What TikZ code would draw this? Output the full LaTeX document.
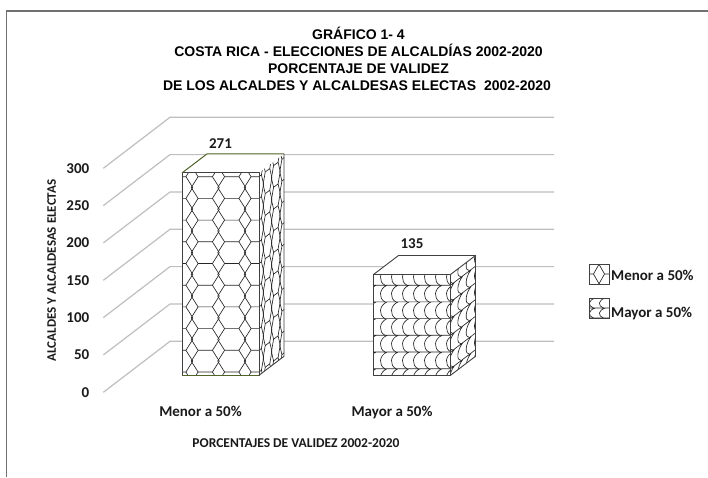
\documentclass[tikz,border=0pt]{standalone}
\usepackage{fontspec}
\setmainfont{Carlito}
\newfontfamily\titlefont{Liberation Sans}
\definecolor{txtc}{HTML}{1A1A1A}
\definecolor{gridc}{HTML}{BFBFBF}
\definecolor{edgec}{HTML}{404040}
\definecolor{olivec}{HTML}{4F6228}
\definecolor{frmc}{HTML}{707070}
\tikzset{
  patline/.style={draw=black!85, line width=0.65pt, line join=round},
  gridline/.style={draw=gridc, line width=1.2pt},
  baredge/.style={draw=edgec, line width=0.9pt, line join=round},
  lbl/.style={font=\bfseries\fontsize{15}{18}\selectfont, text=txtc, inner sep=0pt},
  ttl/.style={font=\titlefont\bfseries\fontsize{14}{16}\selectfont, text=black, inner sep=0pt, anchor=base},
}
% hexagon pattern: width, height, tile W, tile H, x offset, y offset
\newcommand\hexpat[6]{%
  \begin{scope}
    \clip (0,0) rectangle (#1,#2);
    \pgfmathtruncatemacro\hxn{ceil((#1-(#5))/(#3))+1}%
    \pgfmathtruncatemacro\hyn{ceil((#2-(#6))/(#4))+1}%
    \foreach \i in {-1,...,\hxn}{%
      \foreach \j in {-1,...,\hyn}{%
        \pgfmathsetmacro\hX{(#5)+(\i)*(#3)}%
        \pgfmathsetmacro\hY{(#6)+(\j)*(#4)}%
        \draw[patline] (\hX+0.23*#3,\hY) -- (\hX+0.77*#3,\hY) -- (\hX+1.03*#3,\hY+0.5*#4) -- (\hX+0.77*#3,\hY+#4)
          (\hX+0.23*#3,\hY) -- (\hX-0.03*#3,\hY+0.5*#4) -- (\hX+0.23*#3,\hY+#4);
      }}
  \end{scope}}
% scale pattern
\newcommand\scalepat[6]{%
  \begin{scope}
    \clip (0,0) rectangle (#1,#2);
    \pgfmathtruncatemacro\hxn{ceil((#1-(#5))/(#3))+1}%
    \pgfmathtruncatemacro\hyn{ceil((#2-(#6))/(#4))+1}%
    \foreach \i in {-1,...,\hxn}{%
      \foreach \j in {-1,...,\hyn}{%
        \pgfmathsetmacro\hX{(#5)+(\i)*(#3)}%
        \pgfmathsetmacro\hY{(#6)+(\j)*(#4)}%
        \draw[patline] (\hX,\hY) -- (\hX+#3,\hY)
          (\hX+0.85*#3,\hY) .. controls (\hX+0.1*#3,\hY+0.2*#4) and (\hX+0.05*#3,\hY+0.8*#4) .. (\hX+0.65*#3,\hY+#4);
      }}
  \end{scope}}
\begin{document}
\begin{tikzpicture}[x=1pt,y=-1pt]
\useasboundingbox (0,0) rectangle (708,477);
\fill[white] (0,0) rectangle (708,477);
\draw[frmc, line width=1.5pt] (6.5,477) -- (6.5,11) -- (708,11);

% title
\node[ttl] (h1) at (358.5,39.5) {GRÁFICO 1- 4};
\node[ttl] (h2) at (358.5,56.5) {COSTA RICA - ELECCIONES DE ALCALDÍAS 2002-2020};
\node[ttl] (h3) at (358.5,73.5) {PORCENTAJE DE VALIDEZ};
\node[ttl] (h4) at (357,90.5) {DE LOS ALCALDES Y ALCALDESAS ELECTAS\ \ 2002-2020};

% grid, floor diagonals and tick labels
\foreach \v in {0,50,...,300} {
  \pgfmathsetmacro\yb{341.3-0.7467*\v}
  \pgfmathsetmacro\yf{\yb+51}
  \draw[gridline] (103.3,\yf) -- (170,\yb) -- (554,\yb);
  \node[lbl, anchor=east] (t\v) at (89.5,\yf) {\v};
}

% bar 1 (271)
\fill[white] (182,172.9) -- (259,172.9) -- (284,153.9) -- (207,153.9) -- cycle;
\begin{scope}[shift={(182,172.9)}]
  \fill[white] (0,0) rectangle (77,202.4);
  \hexpat{77}{202.4}{26.5}{21.7}{-16.5}{3.8}
\end{scope}
\begin{scope}[shift={(259,172.9)}, cm={1,0.76,0,1,(0,0)}]
  \fill[white] (0,0) rectangle (25,202.4);
  \hexpat{25}{202.4}{8.33}{21.7}{-4}{3.8}
\end{scope}
\draw[baredge] (182,375.3) rectangle (259,172.9);
\draw[baredge] (259,375.3) -- (284,356.3) -- (284,153.9);
\draw[olivec, line width=1pt, line join=round] (182,172.9) -- (207,153.9) -- (284,153.9);
\draw[olivec, line width=1pt] (182,375.3) -- (259,375.3);

% bar 2 (135)
\fill[white] (373.5,274.5) -- (450.5,274.5) -- (475.5,255.5) -- (398.5,255.5) -- cycle;
\begin{scope}[shift={(373.5,274.5)}]
  \fill[white] (0,0) rectangle (77,100.8);
  \scalepat{77}{100.8}{11}{16.7}{-6.7}{-6}
\end{scope}
\begin{scope}[shift={(450.5,274.5)}, cm={1,0.76,0,1,(0,0)}]
  \fill[white] (0,0) rectangle (25,100.8);
  \scalepat{25}{100.8}{8.33}{16.7}{-3}{-6}
\end{scope}
\draw[baredge] (373.5,375.3) rectangle (450.5,274.5);
\draw[baredge] (450.5,375.3) -- (475.5,356.3) -- (475.5,255.5) -- (450.5,274.5);
\draw[baredge] (373.5,274.5) -- (398.5,255.5) -- (475.5,255.5);

% data labels
\node[lbl] (v1) at (220.5,143.3) {271};
\node[lbl] (v2) at (412,244) {135};

% axis labels
\node[lbl, anchor=base] (c1) at (200.5,416) {Menor a 50\%};
\node[lbl, anchor=base] (c2) at (392,416) {Mayor a 50\%};
\node[lbl, font=\bfseries\fontsize{13.5}{16}\selectfont, anchor=base] (xt) at (296,447.7) {PORCENTAJES DE VALIDEZ 2002-2020};
\node[lbl, font=\bfseries\fontsize{13}{15}\selectfont, rotate=90] (yt) at (51.7,270.5) {ALCALDES Y ALCALDESAS ELECTAS};

% legend
\begin{scope}[shift={(589,264)}]
  \fill[white] (0,0) rectangle (20,20);
  \hexpat{20}{20}{24}{22}{-14}{10}
  \draw[edgec, line width=0.8pt] (0,0) rectangle (20,20);
\end{scope}
\begin{scope}[shift={(589,298)}]
  \fill[white] (0,0) rectangle (20,20);
  \scalepat{20}{20}{10}{10}{-2}{0}
  \draw[edgec, line width=0.8pt] (0,0) rectangle (20,20);
\end{scope}
\node[lbl, anchor=base west] (l1) at (611,280.3) {Menor a 50\%};
\node[lbl, anchor=base west] (l2) at (611,317.3) {Mayor a 50\%};
\end{tikzpicture}
\end{document}
